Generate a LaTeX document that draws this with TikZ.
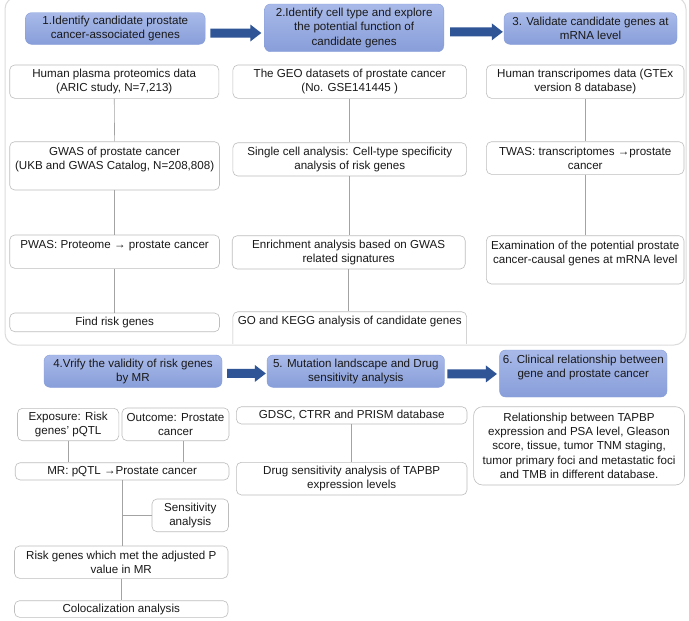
\documentclass[tikz,border=0pt]{standalone}
\usepackage{fontspec}
\setmainfont{Liberation Sans}
\usetikzlibrary{calc}
\definecolor{arrowblue}{HTML}{2F5597}
\definecolor{hdtop}{HTML}{A9BAE9}
\definecolor{hdbot}{HTML}{889EDA}
\definecolor{boxline}{HTML}{BDBDBD}
\definecolor{conn}{HTML}{A3A3A3}
\definecolor{panel}{HTML}{DCDCDC}
\tikzset{
 base/.style={font=\fontsize{11.6}{14.2}\selectfont, align=center, inner sep=0pt, text=black!90},
 wbox/.style={base, draw=boxline, line width=0.6pt, rounded corners=5pt, fill=white},
 hbox/.style={base, rounded corners=6pt, top color=hdtop, bottom color=hdbot, draw=hdbot},
 txt/.style={base},
 link/.style={draw=conn, line width=0.6pt},
}
\newcommand\bx[7][wbox]{\node[#1, minimum width=#5pt-#3pt, minimum height=#6pt-#4pt] (#2) at ({(#3+#5)/2},{(#4+#6)/2}) {#7};}
\newcommand\blockarrow[5]{%
 \fill[arrowblue] let \p1=(#1.east), \p2=(#2.west) in
 ({\x1+#3},{\y1+(#5)+4.5pt}) -- ({\x2-#4-11pt},{\y1+(#5)+4.5pt}) -- ({\x2-#4-11pt},{\y1+(#5)+8.5pt}) -- ({\x2-#4},{\y1+(#5)}) -- ({\x2-#4-11pt},{\y1+(#5)-8.5pt}) -- ({\x2-#4-11pt},{\y1+(#5)-4.5pt}) -- ({\x1+#3},{\y1+(#5)-4.5pt}) -- cycle;}
\begin{document}
\begin{tikzpicture}[x=1pt,y=-1pt]
\fill[white] (0,0) rectangle (689,621);
\useasboundingbox (0,0) rectangle (689,621);
% top panel frame
\draw[panel, line width=1pt, rounded corners=12pt] (5,-3) rectangle (686,345);

% headers top
\bx[hbox]{h1}{25.5}{12.7}{205.2}{44.3}{1.Identify candidate prostate\\cancer-associated genes}
\bx[hbox]{h2}{264.5}{4}{443.8}{51.7}{2.Identify cell type and explore\\the potential function of\\candidate genes}
\bx[hbox]{h3}{504}{12.7}{677}{44.3}{3. Validate candidate genes at\\mRNA level}
\blockarrow{h1}{h2}{5pt}{3pt}{-4.5pt}
\blockarrow{h2}{h3}{6pt}{1pt}{-4pt}

% column 1
\bx{hp}{9.7}{65}{218.8}{98.3}{Human plasma proteomics data\\(ARIC study, N=7,213)}
\bx{gwas}{9.7}{141.7}{219.5}{190}{}
\node[txt] (gwas-t) at ($(gwas.center)+(0,-6.5)$) {GWAS of prostate cancer\\(UKB and GWAS Catalog, N=208,808)};
\bx{pwas}{9.7}{235}{219.5}{268.3}{}
\node[txt] (pwas-t) at ($(pwas.center)+(0,-6)$) {PWAS: Proteome → prostate cancer};
\bx{find}{9.7}{313}{219.5}{331.7}{Find risk genes}
\draw[link] (hp.south) -- (gwas.north);
\draw[link] (gwas.south) -- (pwas.north);
\draw[link] (pwas.south) -- (find.north);

% column 2
\bx{geo}{232.9}{65}{466.6}{98.3}{The GEO datasets of prostate cancer\\(No. GSE141445 )}
\bx{sc}{232.9}{142.7}{466.6}{176}{Single cell analysis: Cell-type specificity\\analysis of risk genes}
\bx{enr}{232.2}{235.7}{465.2}{269}{Enrichment analysis based on GWAS\\related signatures}
\begin{scope}
\clip (0,0) rectangle (689,343);
\bx{go}{232.9}{311.7}{466.6}{362}{}
\end{scope}
\node[txt] (go-t) at (349.7,321.7) {GO and KEGG analysis of candidate genes};
\draw[link] (geo.south) -- (sc.north);
\draw[link] (sc.south) -- (sc.south |- enr.north);
\draw[link] (enr.south) -- (enr.south |- go.north);

% column 3
\bx{ht}{486.4}{65}{684}{98.3}{Human transcripomes data (GTEx\\version 8 database)}
\bx{twas}{486.4}{141.7}{684}{174.3}{TWAS: transcriptomes →prostate\\cancer}
\bx{exam}{486.4}{235.7}{684}{284}{}
\node[txt] (exam-t) at ($(exam.center)+(0,-6.3)$) {Examination of the potential prostate\\cancer-causal genes at mRNA level};
\draw[link] (ht.south) -- (twas.north);
\draw[link] (twas.south) -- (exam.north);

% headers bottom
\bx[hbox]{h4}{44}{355}{222}{387.3}{4.Vrify the validity of risk genes\\by MR}
\bx[hbox]{h5}{267}{355}{444.6}{387.3}{5. Mutation landscape and Drug\\sensitivity analysis}
\bx[hbox]{h6}{499.6}{350}{667}{397}{}
\node[txt] (h6-t) at ($(h6.center)+(0,-6)$) {6. Clinical relationship between\\gene and prostate cancer};
\blockarrow{h4}{h5}{5pt}{1pt}{-2.3pt}
\blockarrow{h5}{h6}{2.5pt}{2.5pt}{-2.8pt}

% block 4
\bx{expo}{17.5}{408.3}{118.8}{440.7}{Exposure: Risk\\genes' pQTL}
\bx{outc}{122}{408}{229}{440.7}{Outcome: Prostate\\cancer}
\bx{mr}{15.2}{462.7}{229}{480}{MR: pQTL →Prostate cancer}
\bx{sens}{152}{499}{228.5}{531.7}{Sensitivity\\analysis}
\bx{risk}{14.5}{546}{228}{578.3}{Risk genes which met the adjusted P\\value in MR}
\bx{coloc}{14.5}{600.7}{228}{617.3}{Colocalization analysis}
\draw[link] (expo.south) -- (expo.south |- mr.north);
\coordinate (outc-a) at ($(outc.south)+(7.5,0)$);
\draw[link] (outc-a) -- (outc-a |- mr.north);
\draw[link] (mr.south) -- (mr.south |- risk.north);
\draw[link] (sens.west) -- (sens.west -| mr.south);
\draw[link] (risk.south) -- (risk.south |- coloc.north);

% block 5
\bx{gdsc}{236.4}{406.7}{467}{424}{GDSC, CTRR and PRISM database}
\bx{drug}{236.4}{462.3}{467}{495}{Drug sensitivity analysis of TAPBP\\expression levels}
\draw[link] (gdsc.south) -- (drug.north);

% block 6
\bx[wbox,rounded corners=9pt]{rel}{473.6}{406.7}{684.5}{485}{Relationship between TAPBP\\expression and PSA level, Gleason\\score, tissue, tumor TNM staging,\\tumor primary foci and metastatic foci\\and TMB in different database.}
\end{tikzpicture}
\end{document}
